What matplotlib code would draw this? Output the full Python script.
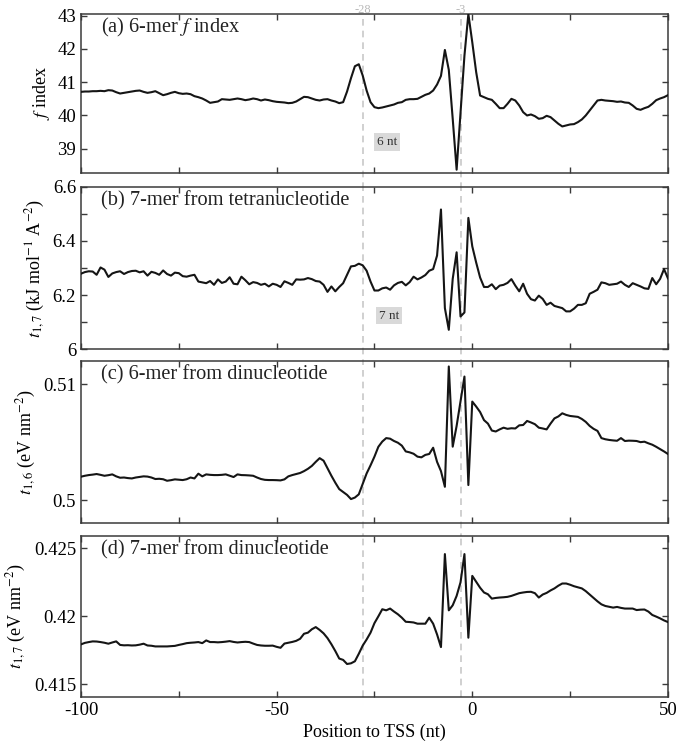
import numpy as np
import matplotlib
matplotlib.use("Agg")
import matplotlib.pyplot as plt
from matplotlib.ticker import MultipleLocator, FormatStrFormatter

plt.rcParams['font.family'] = ['Liberation Serif', 'DejaVu Serif']
plt.rcParams['mathtext.fontset'] = 'stix'
plt.rcParams['axes.unicode_minus'] = False

# position relative to TSS (nt)
pos = np.arange(-100, 51)

# (a) 6-mer f index
f_index = [
    40.71, 40.72, 40.72, 40.73, 40.73, 40.74, 40.73, 40.76, 40.75, 40.70,
    40.66, 40.68, 40.70, 40.72, 40.74, 40.75, 40.71, 40.68, 40.70, 40.73,
    40.67, 40.61, 40.64, 40.68, 40.71, 40.67, 40.65, 40.66, 40.64, 40.58,
    40.55, 40.51, 40.45, 40.38, 40.40, 40.42, 40.49, 40.48, 40.47, 40.49,
    40.51, 40.49, 40.46, 40.48, 40.51, 40.49, 40.45, 40.48, 40.46, 40.43,
    40.41, 40.40, 40.39, 40.37, 40.38, 40.42, 40.49, 40.56, 40.55, 40.51,
    40.47, 40.45, 40.48, 40.49, 40.45, 40.42, 40.37, 40.40, 40.72, 41.12,
    41.48, 41.54, 41.20, 40.75, 40.40, 40.25, 40.22, 40.24, 40.27, 40.30,
    40.33, 40.38, 40.40, 40.47, 40.49, 40.49, 40.50, 40.56, 40.62, 40.66,
    40.75, 40.93, 41.19, 41.97, 41.37, 39.90, 38.37, 40.10, 41.80, 43.05,
    42.20, 41.30, 40.60, 40.55, 40.50, 40.47, 40.35, 40.22, 40.22, 40.35,
    40.50, 40.45, 40.30, 40.10, 40.00, 40.03, 39.98, 39.90, 39.92, 39.99,
    39.95, 39.85, 39.75, 39.67, 39.70, 39.73, 39.74, 39.80, 39.88, 40.00,
    40.15, 40.30, 40.45, 40.47, 40.45, 40.44, 40.43, 40.41, 40.42, 40.39,
    40.38, 40.30, 40.20, 40.17, 40.22, 40.26, 40.35, 40.46, 40.51, 40.55,
    40.61]

# (b) 7-mer from tetranucleotide
t17_tetra = [
    6.279, 6.285, 6.288, 6.287, 6.275, 6.302, 6.294, 6.267, 6.280, 6.285,
    6.288, 6.278, 6.285, 6.289, 6.290, 6.284, 6.288, 6.272, 6.286, 6.282,
    6.275, 6.291, 6.278, 6.272, 6.283, 6.281, 6.270, 6.268, 6.272, 6.275,
    6.250, 6.247, 6.244, 6.252, 6.238, 6.258, 6.245, 6.250, 6.266, 6.242,
    6.240, 6.268, 6.255, 6.240, 6.248, 6.245, 6.238, 6.242, 6.232, 6.242,
    6.238, 6.230, 6.251, 6.245, 6.238, 6.258, 6.257, 6.258, 6.263, 6.259,
    6.252, 6.250, 6.238, 6.212, 6.232, 6.214, 6.230, 6.244, 6.275, 6.306,
    6.308, 6.316, 6.310, 6.290, 6.250, 6.217, 6.217, 6.225, 6.228, 6.220,
    6.236, 6.245, 6.249, 6.236, 6.248, 6.268, 6.258, 6.265, 6.274, 6.290,
    6.296, 6.346, 6.516, 6.152, 6.072, 6.260, 6.358, 6.121, 6.136, 6.485,
    6.380, 6.320, 6.265, 6.230, 6.230, 6.240, 6.222, 6.235, 6.238, 6.245,
    6.259, 6.235, 6.214, 6.242, 6.205, 6.185, 6.180, 6.198, 6.186, 6.164,
    6.172, 6.160, 6.156, 6.152, 6.140, 6.140, 6.150, 6.164, 6.164, 6.170,
    6.205, 6.212, 6.220, 6.247, 6.244, 6.238, 6.240, 6.242, 6.250, 6.238,
    6.230, 6.244, 6.238, 6.232, 6.225, 6.223, 6.263, 6.240, 6.260, 6.296,
    6.262]

# (c) 6-mer from dinucleotide
t16_di = [
    0.50202, 0.50210, 0.50216, 0.50220, 0.50225, 0.50218, 0.50210, 0.50215, 0.50222, 0.50205,
    0.50193, 0.50195, 0.50190, 0.50187, 0.50195, 0.50200, 0.50205, 0.50203, 0.50195, 0.50182,
    0.50184, 0.50180, 0.50167, 0.50172, 0.50179, 0.50176, 0.50173, 0.50180, 0.50195, 0.50187,
    0.50228, 0.50205, 0.50222, 0.50218, 0.50216, 0.50216, 0.50218, 0.50222, 0.50210, 0.50199,
    0.50222, 0.50216, 0.50215, 0.50213, 0.50210, 0.50195, 0.50182, 0.50175, 0.50173, 0.50173,
    0.50172, 0.50170, 0.50179, 0.50205, 0.50216, 0.50225, 0.50234, 0.50250, 0.50270, 0.50295,
    0.50330, 0.50362, 0.50340, 0.50275, 0.50210, 0.50150, 0.50095, 0.50070, 0.50045, 0.50009,
    0.50022, 0.50050, 0.50140, 0.50230, 0.50300, 0.50375, 0.50460, 0.50505, 0.50535, 0.50530,
    0.50510, 0.50495, 0.50470, 0.50420, 0.50412, 0.50400, 0.50375, 0.50369, 0.50390, 0.50398,
    0.50452, 0.50330, 0.50250, 0.50115, 0.51153, 0.50461, 0.50640, 0.50853, 0.51066, 0.50130,
    0.50850, 0.50807, 0.50760, 0.50690, 0.50660, 0.50600, 0.50592, 0.50610, 0.50625, 0.50615,
    0.50620, 0.50618, 0.50645, 0.50648, 0.50683, 0.50670, 0.50655, 0.50625, 0.50618, 0.50610,
    0.50660, 0.50705, 0.50722, 0.50749, 0.50735, 0.50726, 0.50722, 0.50718, 0.50700, 0.50675,
    0.50640, 0.50615, 0.50597, 0.50535, 0.50525, 0.50519, 0.50515, 0.50512, 0.50535, 0.50510,
    0.50513, 0.50512, 0.50510, 0.50500, 0.50504, 0.50490, 0.50478, 0.50460, 0.50440, 0.50420,
    0.50398]

# (d) 7-mer from dinucleotide
t17_di = [
    0.41794, 0.41805, 0.41811, 0.41816, 0.41815, 0.41811, 0.41806, 0.41799, 0.41808, 0.41816,
    0.41790, 0.41787, 0.41788, 0.41786, 0.41787, 0.41792, 0.41799, 0.41786, 0.41784, 0.41779,
    0.41779, 0.41779, 0.41779, 0.41781, 0.41783, 0.41790, 0.41796, 0.41803, 0.41806, 0.41808,
    0.41811, 0.41803, 0.41823, 0.41811, 0.41811, 0.41809, 0.41811, 0.41814, 0.41818, 0.41812,
    0.41808, 0.41811, 0.41813, 0.41811, 0.41800, 0.41790, 0.41786, 0.41784, 0.41784, 0.41785,
    0.41776, 0.41769, 0.41800, 0.41806, 0.41812, 0.41820, 0.41835, 0.41872, 0.41880, 0.41905,
    0.41921, 0.41900, 0.41875, 0.41840, 0.41795, 0.41745, 0.41690, 0.41680, 0.41650, 0.41655,
    0.41670, 0.41725, 0.41785, 0.41830, 0.41880, 0.41950, 0.42000, 0.42052, 0.42044, 0.42057,
    0.42035, 0.42015, 0.41990, 0.41960, 0.41958, 0.41955, 0.41946, 0.41946, 0.41946, 0.41990,
    0.41946, 0.41867, 0.41774, 0.42457, 0.42044, 0.42081, 0.42150, 0.42250, 0.42457, 0.41843,
    0.42297, 0.42253, 0.42210, 0.42175, 0.42162, 0.42130, 0.42135, 0.42138, 0.42140, 0.42143,
    0.42150, 0.42160, 0.42170, 0.42175, 0.42179, 0.42180, 0.42170, 0.42138, 0.42160, 0.42172,
    0.42190, 0.42205, 0.42225, 0.42241, 0.42241, 0.42232, 0.42221, 0.42213, 0.42205, 0.42185,
    0.42160, 0.42135, 0.42110, 0.42088, 0.42076, 0.42070, 0.42064, 0.42069, 0.42062, 0.42057,
    0.42057, 0.42057, 0.42046, 0.42049, 0.42050, 0.42035, 0.42010, 0.41998, 0.41985, 0.41970,
    0.41958]

series = [f_index, t17_tetra, t16_di, t17_di]
titles = ['(a) 6-mer $f$ index', '(b) 7-mer from tetranucleotide',
          '(c) 6-mer from dinucleotide', '(d) 7-mer from dinucleotide']
ylabels = ['$f$ index', '$t_{1,7}$ (kJ mol$^{-1}$ A$^{-2}$)',
           '$t_{1,6}$ (eV nm$^{-2}$)', '$t_{1,7}$ (eV nm$^{-2}$)']
ylims = [(38.27, 43.05), (6.0, 6.6), (0.498, 0.512), (0.4141, 0.4259)]
ymajor = [1, 0.2, 0.01, 0.005]
yminor = [1, 0.1, 0.01, 0.005]
marks = [-28, -3]
boxes = {0: (-21.8, 39.2, '6 nt'), 1: (-21.3, 6.124, '7 nt')}

# axes rectangles [left, bottom, width, height] in figure fraction
rects = [[0.1196, 0.7665, 0.867, 0.2146],
         [0.1196, 0.5286, 0.867, 0.2194],
         [0.1196, 0.2938, 0.867, 0.2190],
         [0.1196, 0.0598, 0.867, 0.2169]]

fig = plt.figure(figsize=(6.77, 7.41), dpi=100)
spine_col = '#3a3a3a'
grey = '#c8c8c8'

for i, y in enumerate(series):
    ax = fig.add_axes(rects[i])
    ax.plot(pos, y, color='#151515', lw=1.5, zorder=3)
    ax.set_xlim(-100, 50)
    ax.set_ylim(*ylims[i])
    ax.xaxis.set_major_locator(MultipleLocator(50))
    ax.xaxis.set_minor_locator(MultipleLocator(25))
    ax.yaxis.set_major_locator(MultipleLocator(ymajor[i]))
    ax.yaxis.set_minor_locator(MultipleLocator(yminor[i]))
    ax.yaxis.set_major_formatter(FormatStrFormatter('%g'))
    ax.tick_params(which='both', direction='in', top=True, right=True,
                   length=4, width=1, color=spine_col, labelsize=13.5)
    for s in ax.spines.values():
        s.set_color(spine_col)
        s.set_linewidth(1.1)
    if i < 3:
        ax.tick_params(labelbottom=False)
    ax.set_ylabel(ylabels[i], fontsize=13)
    ax.text(0.034, 0.915, titles[i], transform=ax.transAxes, fontsize=14.7,
            va='center', ha='left', color='#222222')
    bot = -0.1 if i < 3 else 0.0
    for m in marks:
        ax.axvline(m, ymin=bot, ymax=1.0, color=grey, ls=(0, (4, 3)),
                   lw=1.2, zorder=1, clip_on=False)
    if i == 0:
        for m in marks:
            ax.text(m, 1.008, str(m), transform=ax.get_xaxis_transform(),
                    ha='center', va='baseline', color='#b8b8b8', fontsize=9)
    if i in boxes:
        bx, by, bt = boxes[i]
        ax.text(bx, by, bt, ha='center', va='center', fontsize=9.5,
                color='#333333',
                bbox=dict(facecolor='#d9d9d9', edgecolor='none', pad=2))
    if i == 3:
        ax.set_xlabel('Position to TSS (nt)', fontsize=13)

fig.savefig('out.png', dpi=100)
